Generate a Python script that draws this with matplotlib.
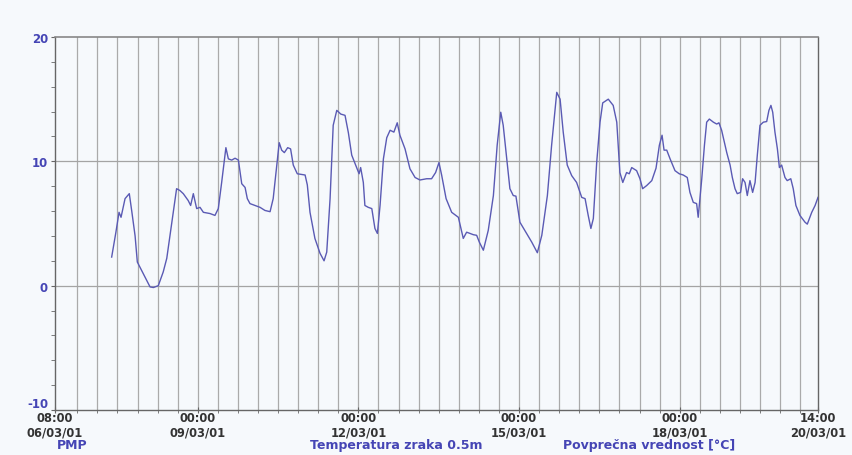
import matplotlib
matplotlib.use("Agg")
import matplotlib.pyplot as plt
from matplotlib.ticker import FixedLocator

# hours after 06/03/01 08:00
hours = [25.4, 27.3, 28.7, 29.6, 31.4, 33.3, 34.4, 35.9, 36.9, 38.9, 40.3, 42.6,
         44.1, 46.3, 48.5, 50.1, 51.5, 53.0, 54.5, 56.0, 57.5, 59.7, 60.8, 62.0,
         63.5, 65.0, 66.5, 69.5, 71.7, 73.2, 74.7, 76.6, 77.7, 79.2, 80.7, 82.2,
         83.7, 85.2, 86.2, 87.4, 89.6, 91.9, 94.1, 96.4, 97.8, 99.4, 100.5, 101.6,
         102.8, 104.3, 105.6, 106.8, 108.6, 112.1, 113.1, 114.3, 116.5, 118.8, 120.6,
         121.8, 123.3, 124.7, 126.3, 128.1, 130.0, 131.5, 133.0, 135.2, 136.3, 137.0,
         138.2, 138.9, 140.4, 142.0, 143.4, 144.5, 145.7, 147.2, 148.7, 150.2, 151.9,
         153.4, 154.6, 156.9, 159.1, 161.4, 163.6, 166.6, 168.8, 170.6, 172.1, 173.3,
         175.3, 177.8, 180.8, 183.0, 184.5, 185.3, 187.5, 189.0, 190.2, 192.0, 194.2,
         196.5, 198.2, 199.8, 200.9, 202.5, 203.9, 205.4, 206.6, 208.4, 211.4, 213.7,
         216.2, 218.2, 220.7, 222.6, 224.9, 226.4, 227.8, 229.6, 231.6, 233.8, 236.1,
         237.6, 239.0, 240.2, 241.3, 242.8, 244.3, 245.5, 248.0, 250.2, 251.8, 253.2,
         254.5, 256.2, 257.4, 258.5, 260.7, 262.2, 263.4, 265.2, 267.5, 269.4, 270.9,
         272.1, 273.0, 274.2, 275.7, 277.9, 279.8, 281.6, 283.4, 284.6, 286.1, 287.6,
         288.3, 289.9, 291.1, 292.1, 293.3, 295.1, 296.6, 297.6, 298.8, 301.1, 302.6,
         303.6, 304.8, 305.8, 307.3, 308.2, 309.3, 310.3, 311.5, 312.7, 313.8, 314.8,
         316.0, 317.5, 319.0, 320.0, 320.9, 321.7, 322.7, 323.8, 324.7, 325.7, 327.2,
         328.2, 329.8, 330.9, 332.1, 333.9, 336.2, 337.2, 339.2, 340.7, 342.0]
temp = [2.3, 4.3, 5.9, 5.5, 7.0, 7.4, 6.0, 4.0, 1.9, 1.2, 0.7, -0.1,
        -0.15, 0.0, 1.1, 2.2, 4.0, 5.9, 7.8, 7.65, 7.4, 6.85, 6.45, 7.4,
        6.2, 6.3, 5.9, 5.8, 5.65, 6.2, 8.3, 11.1, 10.2, 10.1, 10.25, 10.1,
        8.2, 7.9, 7.0, 6.6, 6.45, 6.3, 6.05, 5.95, 7.0, 9.7, 11.5, 10.9,
        10.7, 11.1, 11.0, 9.7, 9.0, 8.9, 8.1, 5.9, 3.8, 2.6, 2.0,
        2.7, 7.0, 12.9, 14.1, 13.8, 13.7, 12.3, 10.5, 9.5, 9.0, 9.5,
        8.3, 6.45, 6.3, 6.2, 4.6, 4.2, 6.45, 10.2, 11.9, 12.5, 12.35,
        13.1, 12.1, 11.0, 9.4, 8.7, 8.5, 8.6, 8.6, 9.1, 9.9, 8.9,
        7.0, 5.9, 5.5, 3.8, 4.3, 4.25, 4.1, 4.05, 3.5, 2.85, 4.45,
        7.25, 11.3, 13.95, 12.9, 10.2, 7.8, 7.25, 7.2, 5.1, 4.2, 3.5,
        2.65, 4.05, 7.25, 11.3, 15.55, 15.0, 12.35, 9.7, 8.85, 8.3, 7.1,
        7.0, 5.65, 4.6, 5.4, 9.9, 13.15, 14.7, 15.0, 14.5, 13.15, 9.1,
        8.3, 9.1, 9.0, 9.5, 9.25, 8.6, 7.8, 8.05, 8.45, 9.45, 11.3,
        12.1, 10.9, 10.9, 10.2, 9.25, 9.0, 8.9, 8.7, 7.5, 6.7, 6.6,
        5.5, 8.6, 11.3, 13.15, 13.4, 13.15, 13.0, 13.1, 12.5, 10.7, 9.7,
        8.7, 7.8, 7.4, 7.5, 8.6, 8.3, 7.25, 8.45, 7.5, 8.3, 10.5,
        12.9, 13.15, 13.2, 14.1, 14.5, 13.95, 12.35, 11.0, 9.5, 9.7, 8.7,
        8.45, 8.6, 7.8, 6.45, 5.65, 5.1, 4.95, 5.9, 6.45, 7.1]

tick_hours = [0, 64, 136, 208, 280, 342]
tick_labels = ["08:00\n06/03/01", "00:00\n09/03/01", "00:00\n12/03/01",
               "00:00\n15/03/01", "00:00\n18/03/01", "14:00\n20/03/01"]
grid_hours = list(range(10, 342, 9))
y_ticks = [-10, 0, 10, 20]

BG = "#f6f9fc"
BLUE = "#4545b5"
plt.rcParams["font.family"] = "DejaVu Sans"

fig = plt.figure(figsize=(8.52, 4.56), dpi=100, facecolor=BG)
ax = fig.add_axes([55 / 852, 1 - 411 / 456, 763 / 852, 373 / 456], facecolor=BG)

ax.set_xlim(0, 342)
ax.set_ylim(-10, 20)

for g in grid_hours:
    ax.axvline(g, color="#aaaaaa", lw=0.9, zorder=1)
for yv in [0, 10]:
    ax.axhline(yv, color="#a4a4a4", lw=0.9, zorder=1)

ax.plot(hours, temp, color="#5a5ab4", lw=1.0, zorder=3)

for side in ["left", "bottom", "right"]:
    ax.spines[side].set_color("#666666")
    ax.spines[side].set_linewidth(1.0)
ax.spines["top"].set_color("#888888")
ax.spines["top"].set_linewidth(1.2)

ax.set_yticks(y_ticks)
ax.set_yticklabels([str(v) for v in y_ticks], color=BLUE, fontweight="bold", fontsize=8.5)
ax.yaxis.set_minor_locator(FixedLocator(list(range(-10, 21, 2))))
ax.tick_params(axis="y", which="both", length=3, color="#666666", pad=2)
# the bottom label sits a little above its tick so it clears the date labels
ax.get_yticklabels()[0].set_verticalalignment("bottom")

ax.set_xticks(tick_hours)
ax.set_xticklabels(tick_labels, color="#333333", fontweight="bold", fontsize=8.3,
                   linespacing=1.15)
ax.xaxis.set_minor_locator(FixedLocator(grid_hours))
ax.tick_params(axis="x", which="major", direction="inout", length=4,
               color="#666666", pad=-1.5)
ax.tick_params(axis="x", which="minor", length=2.5, color="#666666")

fig.text(72 / 852, 1 - 446 / 456, "PMP", color=BLUE, fontweight="bold",
         fontsize=9, ha="center", va="center")
fig.text(310 / 852, 1 - 446 / 456, "Temperatura zraka 0.5m", color=BLUE,
         fontweight="bold", fontsize=9, ha="left", va="center")
fig.text(563 / 852, 1 - 446 / 456, "Povprečna vrednost [°C]", color=BLUE,
         fontweight="bold", fontsize=9, ha="left", va="center")

fig.savefig("out.png", dpi=100, facecolor=BG)
